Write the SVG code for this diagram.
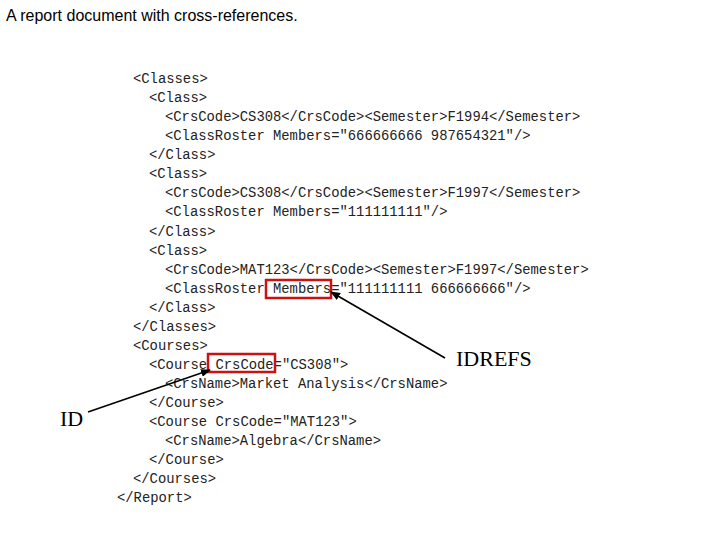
<svg xmlns="http://www.w3.org/2000/svg" width="720" height="540" viewBox="0 0 720 540">
<style>
.c{font-family:"Liberation Mono",monospace;font-size:13.85px;fill:#222;white-space:pre}
.l{font-family:"Liberation Serif",serif;font-size:22px;fill:#000}
.b{fill:none;stroke:#cc1111;stroke-width:2.5}
.a{stroke:#000;stroke-width:1.6;fill:none;marker-end:url(#m)}
</style>
<defs><marker id="m" markerWidth="10" markerHeight="8" refX="9" refY="4" orient="auto" markerUnits="userSpaceOnUse"><path d="M0,0 L10,4 L0,8 z" fill="#000"/></marker></defs>
<rect width="720" height="540" fill="#fff"/>
<text x="6" y="21" style="font-family:'Liberation Sans',sans-serif;font-size:16px">A report document with cross-references.</text>
<g id="code">
<text class="c" x="133" y="83">&lt;Classes&gt;</text>
<text class="c" x="149" y="102">&lt;Class&gt;</text>
<text class="c" x="165" y="121">&lt;CrsCode&gt;CS308&lt;/CrsCode&gt;&lt;Semester&gt;F1994&lt;/Semester&gt;</text>
<text class="c" x="165" y="140">&lt;ClassRoster Members="666666666 987654321"/&gt;</text>
<text class="c" x="149" y="159">&lt;/Class&gt;</text>
<text class="c" x="149" y="178">&lt;Class&gt;</text>
<text class="c" x="165" y="197">&lt;CrsCode&gt;CS308&lt;/CrsCode&gt;&lt;Semester&gt;F1997&lt;/Semester&gt;</text>
<text class="c" x="165" y="216">&lt;ClassRoster Members="111111111"/&gt;</text>
<text class="c" x="149" y="236">&lt;/Class&gt;</text>
<text class="c" x="149" y="255">&lt;Class&gt;</text>
<text class="c" x="165" y="274">&lt;CrsCode&gt;MAT123&lt;/CrsCode&gt;&lt;Semester&gt;F1997&lt;/Semester&gt;</text>
<text class="c" x="165" y="293">&lt;ClassRoster Members="111111111 666666666"/&gt;</text>
<text class="c" x="149" y="312">&lt;/Class&gt;</text>
<text class="c" x="133" y="331">&lt;/Classes&gt;</text>
<text class="c" x="133" y="350">&lt;Courses&gt;</text>
<text class="c" x="149" y="369">&lt;Course CrsCode="CS308"&gt;</text>
<text class="c" x="165" y="388">&lt;CrsName&gt;Market Analysis&lt;/CrsName&gt;</text>
<text class="c" x="149" y="407">&lt;/Course&gt;</text>
<text class="c" x="149" y="426">&lt;Course CrsCode="MAT123"&gt;</text>
<text class="c" x="165" y="445">&lt;CrsName&gt;Algebra&lt;/CrsName&gt;</text>
<text class="c" x="149" y="464">&lt;/Course&gt;</text>
<text class="c" x="133" y="483">&lt;/Courses&gt;</text>
<text class="c" x="117" y="502">&lt;/Report&gt;</text>
</g>
<g id="box-members"><rect class="b" x="266" y="280" width="65" height="18"/></g>
<g id="box-crscode"><rect class="b" x="208" y="354" width="67" height="18"/></g>
<g id="label-idrefs"><text class="l" x="456" y="366">IDREFS</text></g>
<g id="label-id"><text class="l" x="60" y="426">ID</text></g>
<g id="connectors">
<line class="a" x1="445" y1="358" x2="331" y2="292"/>
<line class="a" x1="88" y1="412" x2="210" y2="370"/>
</g>
</svg>
